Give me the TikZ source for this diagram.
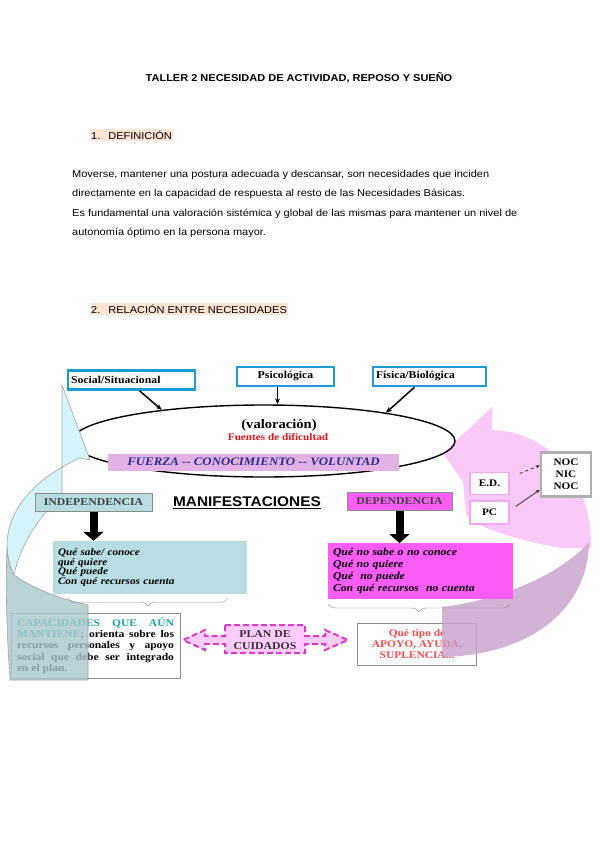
\documentclass[tikz,border=0pt]{standalone}
\usepackage{fontspec}
\setmainfont{Liberation Serif}[FakeStretch=1.12]
\setsansfont{Liberation Sans}[FakeStretch=1.1]
\usepackage{tikz}
\usetikzlibrary{arrows.meta,positioning,calc,decorations.pathreplacing,shapes.geometric}
\definecolor{celeste}{HTML}{1E9BD0}
\definecolor{turquesa}{HTML}{B7DDE3}
\definecolor{fucsia}{HTML}{FB5DF6}
\definecolor{lila}{HTML}{E2B2E4}
\definecolor{marino}{HTML}{2B2E8C}
\definecolor{rojo}{HTML}{E8141B}
\definecolor{rojoclaro}{HTML}{FF4D4D}
\definecolor{verdeazul}{HTML}{1FA3A8}
\definecolor{gris}{HTML}{8C8C8C}
\definecolor{melocoton}{HTML}{FCE4D4}
\definecolor{cielo}{HTML}{D4F3FA}
\definecolor{pizarra}{HTML}{A7C7CB}
\definecolor{rosado}{HTML}{FAC0F6}
\definecolor{morado}{HTML}{C79FCB}
\definecolor{rosaborde}{HTML}{F4A8F0}
\definecolor{planfondo}{HTML}{FFCCFF}
\definecolor{planborde}{HTML}{DC3CCB}

\begin{document}
\begin{tikzpicture}[x=1pt, y=-1pt,
  cx/.style={draw=celeste, line width=2.5pt, fill=white, minimum height=19pt, inner sep=3pt,
    font={\fontsize{10.5}{12}\selectfont\bfseries}},
  mx/.style={draw=gris, line width=1pt, minimum height=18pt, text=black!75,
    font={\fontsize{10.5}{12}\selectfont\bfseries}},
  lx/.style={align=left, inner sep=5pt},
  px/.style={draw=rosaborde, line width=1.5pt, fill=white, font={\fontsize{10}{12}\selectfont\bfseries}},
  hx/.style={anchor=west, fill=melocoton, inner xsep=1pt, inner ysep=2pt, font={\sffamily\fontsize{10}{12}\selectfont}},
  seta/.style={-{Stealth[length=6pt,width=5pt]}, line width=1.5pt},
  setafina/.style={-{Stealth[length=4pt,width=3.5pt]}, line width=0.8pt, black!80},
  bloque/.style={-{Triangle[length=9pt,width=20pt]}, line width=8pt},
  llave/.style={decorate, decoration={brace, mirror, amplitude=8pt}, draw=gris, thin}]
  \useasboundingbox (0,0) rectangle (600,848);
  \fill[white] (0,0) rectangle (600,848);
  % encabezado y texto
  \node[font={\sffamily\fontsize{10}{12}\selectfont\bfseries}] (titulo) at (299,78) {TALLER 2 NECESIDAD DE ACTIVIDAD, REPOSO Y SUEÑO};
  \node[hx] (def) at (90,135) {1.\hspace{8pt}DEFINICIÓN};
  \node[anchor=north west, inner sep=0pt, align=left, font={\sffamily\fontsize{10}{19.5}\selectfont}] (parrafo) at (72,169.7)
    {Moverse, mantener una postura adecuada y descansar, son necesidades que inciden\\
     directamente en la capacidad de respuesta al resto de las Necesidades Básicas.\\
     Es fundamental una valoración sistémica y global de las mismas para mantener un nivel de\\
     autonomía óptimo en la persona mayor.};
  \node[hx] (rel) at (90,309) {2.\hspace{8pt}RELACIÓN ENTRE NECESIDADES};
  % flecha rosa (derecha)
  \fill[rosado, fill opacity=0.85] (443,453) -- (492,407) -- (492,430) .. controls (548,432) and (592,478) .. (591,548)
    -- (560,548) .. controls (520,540) and (480,530) .. (466,515) -- (463,482) -- cycle;
  \node[draw=gris!70, line width=2.5pt, fill=white, minimum width=50pt, minimum height=44pt, align=center,
    font={\fontsize{10}{12}\selectfont\bfseries}] (noc) at (566,474.5) {NOC\\NIC\\NOC};
  % valoracion
  \node[draw, ellipse, line width=1.4pt, minimum width=383pt, minimum height=72pt, inner sep=0pt] (valor) at (263.5,441) {};
  % flecha celeste (izquierda)
  \filldraw[fill=cielo, draw=gris!80, line width=0.6pt] (62,385) -- (90,460) -- (80,458)
    .. controls (35,478) and (6,510) .. (7,548) .. controls (8,560) and (10,568) .. (14,575)
    .. controls (20,545) and (40,515) .. (62,495) -- cycle;
  \node[draw=gris, fill=white, text width=157pt, minimum height=65pt, align=justify, inner xsep=6pt, inner ysep=3pt,
    font={\fontsize{10.3}{11.3}\selectfont\bfseries}] (cap) at (95.5,645.5)
    {\textcolor{verdeazul}{CAPACIDADES QUE AÚN}\linebreak \textcolor{verdeazul}{MANTIENE}; orienta sobre los\linebreak
     recursos personales y apoyo\linebreak social que debe ser integrado\linebreak en el plan.};
  \filldraw[fill=pizarra, fill opacity=0.8, draw=gris!80, line width=0.6pt] (7,548) .. controls (5,600) and (8,650) .. (10,680)
    -- (88,680) -- (88,605) .. controls (65,600) and (35,590) .. (14,575) .. controls (10,568) and (8,560) .. (7,548) -- cycle;
  % fuentes
  \node[cx, text width=121pt, align=left] (social) at (131.5,380) {Social/Situacional};
  \node[cx, minimum width=97pt] (psico) at (285.5,376.5) {Psicológica};
  \node[cx, text width=107pt, align=left] (fisica) at (429.5,376.5) {Física/Biológica};
  \draw[seta] (social.south) ++(8,0) -- (valor.163);
  \draw[seta] ([xshift=-8pt]psico.south) -- ([xshift=-8pt]psico.south |- valor.north);
  \draw[seta] ([xshift=-15pt]fisica.south) -- (valor.13);
  \node[font={\fontsize{13}{15}\selectfont\bfseries}] (valtxt) at (279,425) {(valoración)};
  \node[text=rojo, font={\fontsize{10}{12}\selectfont\bfseries}] (fuentes) at (278,437) {Fuentes de dificultad};
  \node[fill=lila, minimum width=291pt, minimum height=17pt, inner sep=0pt, text=marino,
    font={\fontsize{11.5}{13}\selectfont\bfseries\itshape}] (barra) at (253.5,462) {FUERZA -{}- CONOCIMIENTO -{}- VOLUNTAD};
  % manifestaciones
  \node[mx, fill=turquesa, minimum width=117pt] (indep) at (93.5,502) {INDEPENDENCIA};
  \node[mx, fill=fucsia, minimum width=105pt] (dep) at (399.5,501.5) {DEPENDENCIA};
  \node[font={\sffamily\fontsize{14}{16}\selectfont\bfseries}] (manif) at (247,503) {\underline{MANIFESTACIONES}};
  \node[lx, fill=turquesa, text width=184pt, minimum height=53pt, font={\fontsize{10}{9.5}\selectfont\bfseries\itshape}] (saber) at (150,567.5)
    {Qué sabe/ conoce\\qué quiere\\Qué puede\\Con qué recursos cuenta};
  \draw[bloque] (indep.south) -- (indep.south |- saber.north);
  \draw[llave] ([xshift=15pt,yshift=-4pt]saber.south west) -- ([xshift=-19pt,yshift=-4pt]saber.south east);
  % plan de cuidados
  \filldraw[fill=planfondo, draw=planborde, line width=2pt, dash pattern=on 6pt off 3pt] (225,625) -- (305,625) -- (305,636)
    -- (325,636) -- (325,630) -- (348,640) -- (325,650) -- (325,644) -- (305,644) -- (305,653) -- (225,653) -- (225,644)
    -- (205,644) -- (205,650) -- (183,640) -- (205,630) -- (205,636) -- (225,636) -- cycle;
  \node[align=center, text=black!80, font={\fontsize{10.5}{12}\selectfont\bfseries}] (plan) at (265,640) {PLAN DE\\CUIDADOS};
  \node[draw=gris, fill=white, minimum width=119pt, minimum height=42pt, align=center, text=rojoclaro,
    font={\fontsize{10.2}{11}\selectfont\bfseries}] (tipo) at (417,644) {Qué tipo de\\APOYO, AYUDA,\\SUPLENCIA...};
  \fill[morado, fill opacity=0.8] (442,607) .. controls (500,600) and (560,575) .. (589,542)
    .. controls (588,610) and (530,655) .. (442,657) -- cycle;
  \node[lx, fill=fucsia, text width=175pt, minimum height=52pt, font={\fontsize{10.5}{12}\selectfont\bfseries\itshape}] (nosaber) at (420.5,571)
    {Qué no sabe o no conoce\\Qué no quiere\\Qué\ \ no puede\\Con qué recursos\ \ no cuenta};
  \draw[bloque] (dep.south) -- (dep.south |- nosaber.north);
  \draw[llave] ([yshift=-5pt]nosaber.south west) -- ([xshift=-3pt,yshift=-5pt]nosaber.south east);
  % diagnosticos
  \node[px, minimum width=39pt, minimum height=22pt] (ed) at (489.5,483.5) {E.D.};
  \node[px, minimum width=39pt, minimum height=23pt, below=5pt of ed] (pc) {PC};
  \draw[setafina, dashed] ($(ed.east)+(10,-10)$) -- ($(noc.west)+(0,-9)$);
  \draw[setafina] ($(pc.east)+(6,-6)$) -- ($(noc.south west)+(0,-8)$);
\end{tikzpicture}
\end{document}
